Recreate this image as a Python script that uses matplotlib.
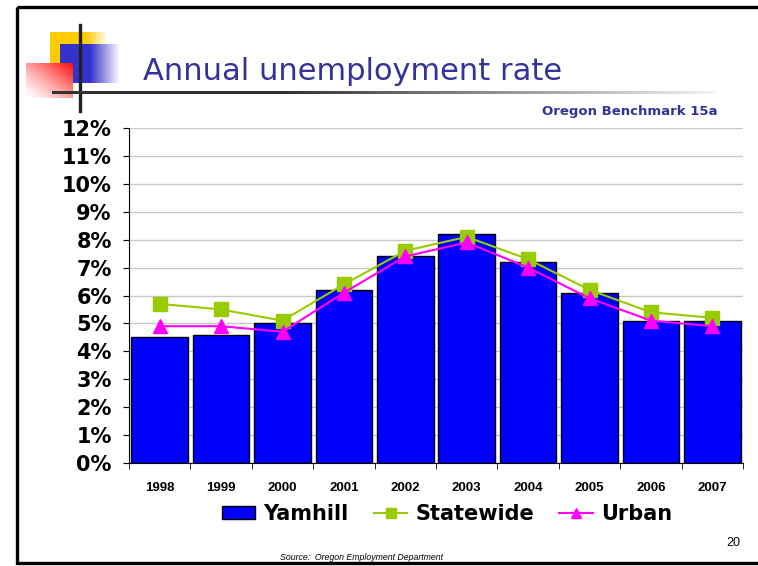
import numpy as np
import matplotlib
matplotlib.use("Agg")
import matplotlib.pyplot as plt
from matplotlib.patches import Rectangle
from matplotlib.ticker import MultipleLocator, FixedLocator, FuncFormatter

years = ["1998", "1999", "2000", "2001", "2002", "2003", "2004", "2005", "2006", "2007"]
yamhill = [4.5, 4.6, 5.0, 6.2, 7.4, 8.2, 7.2, 6.1, 5.1, 5.1]
statewide = [5.7, 5.5, 5.1, 6.4, 7.6, 8.1, 7.3, 6.2, 5.4, 5.2]
urban = [4.9, 4.9, 4.7, 6.1, 7.4, 7.9, 7.0, 5.9, 5.1, 4.9]

W, H = 758, 566
fig = plt.figure(figsize=(W / 100, H / 100), dpi=100)
fig.patch.set_facecolor("white")

# slide decoration layer in pixel coordinates
deco = fig.add_axes([0, 0, 1, 1])
deco.set_xlim(0, W)
deco.set_ylim(H, 0)
deco.axis("off")


def hfade(rgb, n=64):
    img = np.zeros((1, n, 4))
    img[..., :3] = rgb
    img[..., 3] = np.linspace(1, 0, n)
    return img


# yellow square with fade
deco.add_patch(Rectangle((50, 32), 36, 35, color="#FFCC00", lw=0, zorder=1))
deco.imshow(hfade((1, 0.8, 0)), extent=(86, 108, 44, 32), aspect="auto", zorder=1)
# blue square with fade
deco.add_patch(Rectangle((60, 44), 30, 39, color="#3333CC", lw=0, zorder=2))
deco.imshow(hfade((0.2, 0.2, 0.8)), extent=(90, 120, 83, 44), aspect="auto", zorder=2)
# red square, red at top-right fading to white
xx, yy = np.meshgrid(np.linspace(0, 1, 48), np.linspace(0, 1, 36))
t = np.clip((xx + (1 - yy)) / 2, 0, 1) ** 1.3
red = np.ones((36, 48, 4))
red[..., 1] = 1 - 0.95 * t
red[..., 2] = 1 - 0.95 * t
deco.imshow(red, extent=(26, 73, 98, 63), aspect="auto", zorder=3)
# cross lines
deco.plot([80, 80], [25, 111], color="#222222", lw=2.4, zorder=4)
g = np.linspace(0, 1, 200)
shade = np.where(g < 0.35, 0.2, 0.2 + (g - 0.35) / 0.65 * 0.75)
line_grad = np.ones((1, 200, 4))
line_grad[0, :, :3] = shade[:, None]
deco.imshow(line_grad, extent=(52, 715, 94.5, 91.5), aspect="auto", zorder=4)
# slide frame (right edge runs off the picture)
deco.add_patch(Rectangle((17, 7), 760, 556, fill=False, ec="black", lw=2.4, zorder=5))

deco.text(143, 71, "Annual unemployment rate", fontsize=22, color="#333399",
          family="DejaVu Sans", va="center", ha="left")
deco.text(718, 111, "Oregon Benchmark 15a", fontsize=9.5, color="#333399",
          family="DejaVu Sans", weight="bold", va="center", ha="right")
deco.text(740, 543, "20", fontsize=9, color="black", family="Liberation Sans",
          va="center", ha="right")
deco.text(361, 557, "Source:  Oregon Employment Department", fontsize=6.3, style="italic",
          family="Liberation Sans", va="center", ha="center")

# chart
ax = fig.add_axes([129 / W, 1 - 463 / H, (743 - 129) / W, (463 - 128) / H])
x = np.arange(len(years))
ax.bar(x, yamhill, width=0.92, color="#0000FF", edgecolor="black", lw=1,
       label="Yamhill", zorder=2)
ax.plot(x, statewide, color="#99CC00", marker="s", ms=9.5, lw=1.5,
        label="Statewide", zorder=3)
ax.plot(x, urban, color="#FF00FF", marker="^", ms=10.5, lw=1.5,
        label="Urban", zorder=4)

ax.set_xlim(-0.5, len(years) - 0.5)
ax.set_ylim(0, 12)
ax.yaxis.set_major_locator(MultipleLocator(1))
ax.yaxis.set_major_formatter(FuncFormatter(lambda v, p: f"{int(v)}%"))
ax.grid(axis="y", color="#c8c8c8", lw=1, zorder=0)
ax.set_axisbelow(True)

ax.set_xticks(x)
ax.set_xticklabels(years)
ax.xaxis.set_minor_locator(FixedLocator(np.arange(-0.5, len(years), 1)))
ax.tick_params(axis="x", which="major", length=0, pad=14)
ax.tick_params(axis="x", which="minor", length=4, color="black")
ax.tick_params(axis="y", length=4.5, pad=8)
for lab in ax.get_xticklabels():
    lab.set_fontsize(9.5)
    lab.set_fontweight("bold")
    lab.set_family("Liberation Sans")
for lab in ax.get_yticklabels():
    lab.set_fontsize(15)
    lab.set_fontweight("bold")
    lab.set_family("DejaVu Sans")

for s in ["top", "right"]:
    ax.spines[s].set_visible(False)

handles, labels = ax.get_legend_handles_labels()
order = [labels.index(n) for n in ["Yamhill", "Statewide", "Urban"]]
leg = fig.legend([handles[i] for i in order], [labels[i] for i in order],
                 loc="center", bbox_to_anchor=(447 / W, 1 - 514 / H), ncol=3,
                 frameon=False, prop={"family": "DejaVu Sans", "weight": "bold", "size": 15},
                 handlelength=1.6, handleheight=0.6, columnspacing=1.2,
                 handletextpad=0.4, markerscale=0.75)

fig.savefig("out.png", dpi=100)
